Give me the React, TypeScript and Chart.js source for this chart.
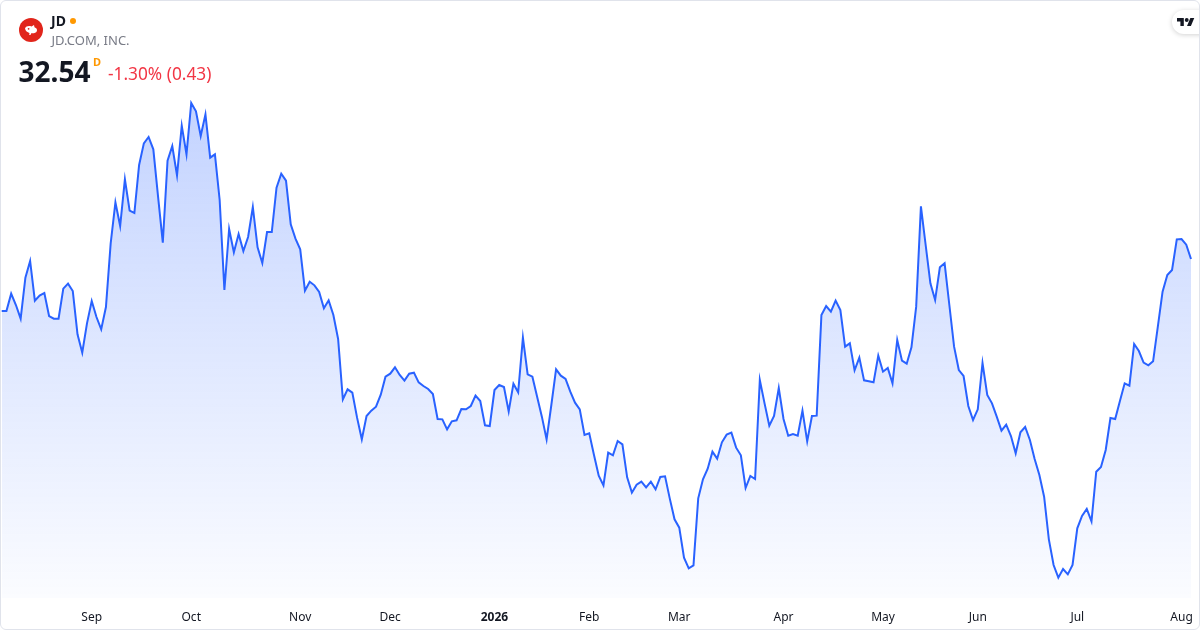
import { useEffect, useRef } from 'react'
import { Chart, registerables } from 'chart.js'

Chart.register(...registerables)

// daily closes, JD, Aug 2025 -> Aug 2026
const prices = [
  30.98, 30.98, 31.50, 31.16, 30.75, 31.98, 32.48, 31.29, 31.44, 31.52,
  30.83, 30.75, 30.75, 31.65, 31.80, 31.58, 30.28, 29.73, 30.61, 31.28,
  30.80, 30.43, 31.10, 33.01, 34.24, 33.53, 34.93, 33.99, 33.92, 35.36,
  36.01, 36.20, 35.83, 34.41, 33.03, 35.49, 35.93, 35.05, 36.54, 35.68,
  37.22, 36.97, 36.23, 36.88,
  35.58, 35.68, 34.31, 31.61, 33.44, 32.74, 33.29, 32.78, 33.20, 34.10,
  32.89, 32.42, 33.35, 33.35, 34.68, 35.10, 34.89, 33.58, 33.15, 32.83,
  31.59, 31.86, 31.75, 31.55, 31.06, 31.30, 30.86, 30.14, 28.33, 28.63,
  28.53, 27.78, 27.13, 27.83, 27.99, 28.11, 28.47, 29.01, 29.10, 29.29,
  29.06, 28.89, 29.10,
  29.13, 28.84, 28.73, 28.64, 28.49, 27.74, 27.73, 27.43, 27.67, 27.70,
  28.04, 28.03, 28.13, 28.44, 28.28, 27.55, 27.53, 28.61, 28.76, 28.70,
  27.97, 28.80, 28.54, 30.18, 29.08, 29.01, 28.41, 27.81, 27.13, 28.16,
  29.23, 29.04, 28.94, 28.56, 28.23, 28.03, 27.26, 27.31, 26.66, 26.04,
  25.75, 26.73,
  26.65, 27.08, 26.98, 25.99, 25.53, 25.77, 25.86, 25.69, 25.86, 25.63,
  26.00, 26.02, 25.35, 24.73, 24.48, 23.58, 23.26, 23.35, 25.36, 25.93,
  26.25, 26.76, 26.55, 27.04, 27.27, 27.33, 26.88, 26.65, 25.67, 26.03,
  25.94, 28.91, 28.21, 27.54, 27.83, 28.67, 27.74, 27.24, 27.29, 27.24,
  27.99, 27.07,
  27.83, 27.84, 30.86, 31.13, 30.96, 31.29, 31.01, 29.91, 30.01, 29.20,
  29.58, 28.90, 28.87, 28.84, 29.64, 29.16, 29.27, 28.81, 30.11, 29.49,
  29.40, 29.89, 31.11, 34.12, 32.96, 31.81, 31.31, 32.29, 32.41, 31.16,
  29.91, 29.21, 29.03, 28.13, 27.71, 28.03, 29.42, 28.46, 28.21, 27.81,
  27.39, 27.57, 27.23, 26.71, 27.34, 27.50, 27.11, 26.54, 26.06, 25.41,
  24.13, 23.36, 22.98, 23.24, 23.08, 23.36, 24.46, 24.83, 25.04, 24.67,
  26.16, 26.30, 26.81, 27.77, 27.74, 28.28, 28.81, 28.74, 29.99, 29.78,
  29.43, 29.35, 29.47, 30.51, 31.56, 32.06, 32.21, 33.13, 33.14, 32.97,
  32.54,
]

const monthTickIdx = [19, 40, 63, 82, 104, 124, 143, 165, 186, 206, 227, 249]
const monthTickLabels = ['Sep', 'Oct', 'Nov', 'Dec', '2026', 'Feb', 'Mar', 'Apr', 'May', 'Jun', 'Jul', 'Aug']
const yearTick = '2026'

const FONT = '"Noto Sans", "Open Sans", sans-serif'

function PriceChart() {
  const canvasRef = useRef<HTMLCanvasElement>(null)
  const chartRef = useRef<Chart | null>(null)

  useEffect(() => {
    if (!canvasRef.current) return
    const labels = prices.map((_, i) => {
      const k = monthTickIdx.indexOf(i)
      return k >= 0 ? monthTickLabels[k] : ''
    })
    const maxVal = Math.max(...prices)

    chartRef.current = new Chart(canvasRef.current, {
      type: 'line',
      data: {
        labels,
        datasets: [{
          data: prices,
          borderColor: '#2962ff',
          borderWidth: 2,
          pointRadius: 0,
          pointHoverRadius: 0,
          tension: 0,
          fill: 'start',
          backgroundColor: (c: any) => {
            const { chart } = c
            const { chartArea, scales } = chart
            if (!chartArea) return 'rgba(41,98,255,0.1)'
            const top = scales.y.getPixelForValue(maxVal)
            const g = chart.ctx.createLinearGradient(0, top, 0, chartArea.bottom)
            g.addColorStop(0, 'rgba(41,98,255,0.28)')
            g.addColorStop(1, 'rgba(41,98,255,0.02)')
            return g
          },
        }],
      },
      options: {
        responsive: true,
        maintainAspectRatio: false,
        animation: false,
        layout: { autoPadding: false, padding: { top: 0, left: 1.7, right: 9, bottom: 0 } },
        plugins: { legend: { display: false }, tooltip: { enabled: false } },
        scales: {
          x: {
            offset: false,
            grid: { display: false, drawTicks: false },
            border: { display: false },
            afterFit: (s: any) => {
              // keep the plot edge-to-edge, month labels sit in a 32px strip
              s.paddingLeft = 0
              s.paddingRight = 0
              s.height = 32
            },
            ticks: {
              autoSkip: false,
              maxRotation: 0,
              minRotation: 0,
              padding: 12,
              color: '#131722',
              font: (c: any) => ({
                family: FONT,
                size: 12,
                weight: labels[c.index] === yearTick ? 'bold' : 'normal',
              }),
            },
          },
          y: {
            display: false,
            min: 22.37,
            max: 40.31,
          },
        },
      },
    } as any)

    return () => { chartRef.current?.destroy(); chartRef.current = null }
  }, [])

  return (
    <div style={{ position: 'absolute', left: 0, top: 0, width: 1200, height: 630 }}>
      <canvas ref={canvasRef} />
    </div>
  )
}

export default function App() {
  const txt = (extra: React.CSSProperties): React.CSSProperties => ({
    position: 'absolute', lineHeight: 1, fontFamily: FONT, whiteSpace: 'nowrap', ...extra,
  })

  return (
    <div style={{ position: 'absolute', left: 0, top: 0, width: 1200, height: 630, background: '#fff', overflow: 'hidden' }}>
      <PriceChart />

      {/* header */}
      <div style={{ position: 'absolute', left: 18.5, top: 18.3, width: 24, height: 24, borderRadius: 12, background: '#e1251b' }}>
        <svg width="24" height="24" viewBox="0 0 24 24">
          <path d="M6 10.5 C7 8 10 7.5 12.5 8.5 L15 7 L15.5 9.2 C17.5 9.8 18.5 11.5 17.8 13.2 C17 15 14.5 15.6 12.2 15.2 L11.5 17 L10.2 17 L10.5 15 C8.2 14.2 6.6 13 6 10.5 Z" fill="#fff" />
          <circle cx="9.6" cy="10.8" r="0.9" fill="#e1251b" />
        </svg>
      </div>
      <div style={txt({ left: 51, top: 13.6, fontSize: 14, fontWeight: 700, color: '#131722' })}>JD</div>
      <div style={{ position: 'absolute', left: 69.7, top: 18, width: 6, height: 6, borderRadius: 3, background: '#ff9800' }} />
      <div style={txt({ left: 51.5, top: 33.5, fontSize: 13, color: '#787b86' })}>JD.COM, INC.</div>
      <div style={txt({ left: 18.5, top: 56.8, fontSize: 28, fontWeight: 700, color: '#131722' })}>32.54</div>
      <div style={txt({ left: 93, top: 55.9, fontSize: 11, fontWeight: 700, color: '#ff9800' })}>D</div>
      <div style={txt({ left: 108, top: 65, fontSize: 17.3, color: '#f23645' })}>-1.30% (0.43)</div>

      {/* logo pill */}
      <div style={{
        position: 'absolute', left: 1172, top: 10, width: 44, height: 24, borderRadius: 12,
        background: '#fff', boxShadow: '0 1px 5px rgba(0,0,0,0.18)',
      }}>
        <svg width="17.5" height="8.75" viewBox="0 4 36 18" style={{ position: 'absolute', left: 5, top: 7.5 }}>
          <path d="M14 22H7V11H0V4h14v18zM28 22h-8l7.5-18h8L28 22z" fill="#131722" />
          <circle cx="20" cy="8" r="4" fill="#131722" />
        </svg>
      </div>

      {/* frame */}
      <div style={{
        position: 'absolute', left: 0, top: 0, width: 1200, height: 630, boxSizing: 'border-box',
        border: '1px solid #e0e3eb', borderRadius: 6, pointerEvents: 'none',
      }} />
    </div>
  )
}
